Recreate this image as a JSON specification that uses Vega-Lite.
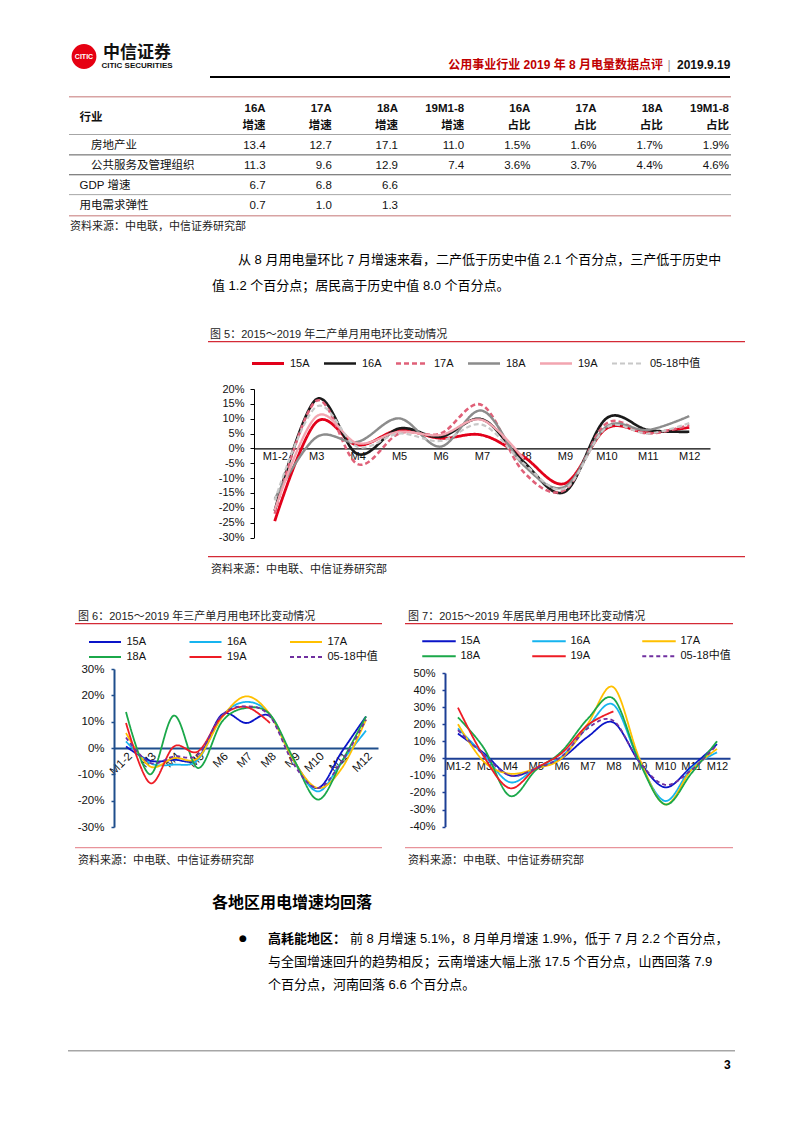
{
"$schema": "https://vega.github.io/schema/vega-lite/v6.json",
"background": "white",
"padding": 0,
"autosize": {"type": "pad"},
"spacing": 0,
"resolve": {"scale": {"color": "independent", "strokeDash": "independent", "strokeWidth": "independent"}},
"config": {
  "view": {"stroke": null},
  "font": "Liberation Sans, Noto Sans CJK SC, sans-serif",
  "concat": {"spacing": 0},
  "axis": {"labelFont": "Liberation Sans, Noto Sans CJK SC, sans-serif"},
  "legend": {"labelFont": "Liberation Sans, Noto Sans CJK SC, sans-serif"},
  "title": {"font": "Liberation Sans, Noto Sans CJK SC, sans-serif"},
  "text": {"font": "Liberation Sans, Noto Sans CJK SC, sans-serif"}
},
"datasets": {
  "hdr": [
    {"c":"g16","h":"行业","t":"16A\n增速"},{"c":"g17","h":"行业","t":"17A\n增速"},{"c":"g18","h":"行业","t":"18A\n增速"},{"c":"g19","h":"行业","t":"19M1-8\n增速"},
    {"c":"s16","h":"行业","t":"16A\n占比"},{"c":"s17","h":"行业","t":"17A\n占比"},{"c":"s18","h":"行业","t":"18A\n占比"},{"c":"s19","h":"行业","t":"19M1-8\n占比"}
  ],
  "tbl": [
    {"r":"房地产业","c":"g16","t":"13.4"},{"r":"房地产业","c":"g17","t":"12.7"},{"r":"房地产业","c":"g18","t":"17.1"},{"r":"房地产业","c":"g19","t":"11.0"},
    {"r":"房地产业","c":"s16","t":"1.5%"},{"r":"房地产业","c":"s17","t":"1.6%"},{"r":"房地产业","c":"s18","t":"1.7%"},{"r":"房地产业","c":"s19","t":"1.9%"},
    {"r":"公共服务及管理组织","c":"g16","t":"11.3"},{"r":"公共服务及管理组织","c":"g17","t":"9.6"},{"r":"公共服务及管理组织","c":"g18","t":"12.9"},{"r":"公共服务及管理组织","c":"g19","t":"7.4"},
    {"r":"公共服务及管理组织","c":"s16","t":"3.6%"},{"r":"公共服务及管理组织","c":"s17","t":"3.7%"},{"r":"公共服务及管理组织","c":"s18","t":"4.4%"},{"r":"公共服务及管理组织","c":"s19","t":"4.6%"},
    {"r":"GDP 增速","c":"g16","t":"6.7"},{"r":"GDP 增速","c":"g17","t":"6.8"},{"r":"GDP 增速","c":"g18","t":"6.6"},
    {"r":"用电需求弹性","c":"g16","t":"0.7"},{"r":"用电需求弹性","c":"g17","t":"1.0"},{"r":"用电需求弹性","c":"g18","t":"1.3"}
  ],
  "f5": [
    {"s":"15A","m":"M1-2","v":-24.5},{"s":"15A","m":"M3","v":8.8},{"s":"15A","m":"M4","v":1.1},{"s":"15A","m":"M5","v":6.2},{"s":"15A","m":"M6","v":3.4},{"s":"15A","m":"M7","v":4.5},{"s":"15A","m":"M8","v":-2.8},{"s":"15A","m":"M9","v":-11.8},{"s":"15A","m":"M10","v":6.7},{"s":"15A","m":"M11","v":5.3},{"s":"15A","m":"M12","v":7.1},
    {"s":"16A","m":"M1-2","v":-21},{"s":"16A","m":"M3","v":16.5},{"s":"16A","m":"M4","v":-1.9},{"s":"16A","m":"M5","v":6.7},{"s":"16A","m":"M6","v":3.9},{"s":"16A","m":"M7","v":9.8},{"s":"16A","m":"M8","v":-4.5},{"s":"16A","m":"M9","v":-14.6},{"s":"16A","m":"M10","v":10.1},{"s":"16A","m":"M11","v":6.2},{"s":"16A","m":"M12","v":5.6},
    {"s":"17A","m":"M1-2","v":-22},{"s":"17A","m":"M3","v":16},{"s":"17A","m":"M4","v":-5.3},{"s":"17A","m":"M5","v":5},{"s":"17A","m":"M6","v":5},{"s":"17A","m":"M7","v":14.6},{"s":"17A","m":"M8","v":-7.9},{"s":"17A","m":"M9","v":-14},{"s":"17A","m":"M10","v":8.4},{"s":"17A","m":"M11","v":5},{"s":"17A","m":"M12","v":7.9},
    {"s":"18A","m":"M1-2","v":-17},{"s":"18A","m":"M3","v":3.7},{"s":"18A","m":"M4","v":2.2},{"s":"18A","m":"M5","v":10.1},{"s":"18A","m":"M6","v":0.6},{"s":"18A","m":"M7","v":12.7},{"s":"18A","m":"M8","v":-5.6},{"s":"18A","m":"M9","v":-12.9},{"s":"18A","m":"M10","v":7.3},{"s":"18A","m":"M11","v":6.2},{"s":"18A","m":"M12","v":10.9},
    {"s":"19A","m":"M1-2","v":-20.8},{"s":"19A","m":"M3","v":10.7},{"s":"19A","m":"M4","v":1.7},{"s":"19A","m":"M5","v":5.6},{"s":"19A","m":"M6","v":4.5},{"s":"19A","m":"M7","v":9.6},{"s":"19A","m":"M8","v":-3.4},
    {"s":"05-18中值","m":"M1-2","v":-17.5},{"s":"05-18中值","m":"M3","v":14},{"s":"05-18中值","m":"M4","v":0.5},{"s":"05-18中值","m":"M5","v":5},{"s":"05-18中值","m":"M6","v":2.5},{"s":"05-18中值","m":"M7","v":8},{"s":"05-18中值","m":"M8","v":-5},{"s":"05-18中值","m":"M9","v":-13.5},{"s":"05-18中值","m":"M10","v":7},{"s":"05-18中值","m":"M11","v":5},{"s":"05-18中值","m":"M12","v":8.5}
  ],
  "f6": [
    {"s":"15A","m":"M1-2","v":0.6},{"s":"15A","m":"M3","v":-4.8},{"s":"15A","m":"M4","v":-4.5},{"s":"15A","m":"M5","v":-3.8},{"s":"15A","m":"M6","v":12.7},{"s":"15A","m":"M7","v":9.5},{"s":"15A","m":"M8","v":12},{"s":"15A","m":"M9","v":-5},{"s":"15A","m":"M10","v":-15.2},{"s":"15A","m":"M11","v":-1.3},{"s":"15A","m":"M12","v":12},
    {"s":"16A","m":"M1-2","v":2.5},{"s":"16A","m":"M3","v":-5.7},{"s":"16A","m":"M4","v":-6.3},{"s":"16A","m":"M5","v":-4.4},{"s":"16A","m":"M6","v":12},{"s":"16A","m":"M7","v":17.5},{"s":"16A","m":"M8","v":12.7},{"s":"16A","m":"M9","v":-5},{"s":"16A","m":"M10","v":-16.5},{"s":"16A","m":"M11","v":-5},{"s":"16A","m":"M12","v":6.6},
    {"s":"17A","m":"M1-2","v":5.7},{"s":"17A","m":"M3","v":-7},{"s":"17A","m":"M4","v":-3.8},{"s":"17A","m":"M5","v":-3.8},{"s":"17A","m":"M6","v":11.6},{"s":"17A","m":"M7","v":19.6},{"s":"17A","m":"M8","v":12.7},{"s":"17A","m":"M9","v":-5},{"s":"17A","m":"M10","v":-15.2},{"s":"17A","m":"M11","v":-7.6},{"s":"17A","m":"M12","v":10.8},
    {"s":"18A","m":"M1-2","v":13.7},{"s":"18A","m":"M3","v":-10},{"s":"18A","m":"M4","v":12.3},{"s":"18A","m":"M5","v":-7.6},{"s":"18A","m":"M6","v":10},{"s":"18A","m":"M7","v":15.2},{"s":"18A","m":"M8","v":12.7},{"s":"18A","m":"M9","v":-4.4},{"s":"18A","m":"M10","v":-19.6},{"s":"18A","m":"M11","v":-5},{"s":"18A","m":"M12","v":12},
    {"s":"19A","m":"M1-2","v":9.5},{"s":"19A","m":"M3","v":-13.3},{"s":"19A","m":"M4","v":0.6},{"s":"19A","m":"M5","v":-1.3},{"s":"19A","m":"M6","v":12},{"s":"19A","m":"M7","v":15.6},{"s":"19A","m":"M8","v":9.5},
    {"s":"05-18中值","m":"M1-2","v":4},{"s":"05-18中值","m":"M3","v":-5.7},{"s":"05-18中值","m":"M4","v":-3.2},{"s":"05-18中值","m":"M5","v":-2.5},{"s":"05-18中值","m":"M6","v":12.4},{"s":"05-18中值","m":"M7","v":15.8},{"s":"05-18中值","m":"M8","v":12},{"s":"05-18中值","m":"M9","v":-6.3},{"s":"05-18中值","m":"M10","v":-15.2},{"s":"05-18中值","m":"M11","v":-5},{"s":"05-18中值","m":"M12","v":10.8}
  ],
  "f7": [
    {"s":"15A","m":"M1-2","v":14.5},{"s":"15A","m":"M3","v":3},{"s":"15A","m":"M4","v":-10},{"s":"15A","m":"M5","v":-6},{"s":"15A","m":"M6","v":0},{"s":"15A","m":"M7","v":12.5},{"s":"15A","m":"M8","v":21},{"s":"15A","m":"M9","v":-2},{"s":"15A","m":"M10","v":-17},{"s":"15A","m":"M11","v":-5},{"s":"15A","m":"M12","v":8.3},
    {"s":"16A","m":"M1-2","v":17.5},{"s":"16A","m":"M3","v":2},{"s":"16A","m":"M4","v":-14},{"s":"16A","m":"M5","v":-6},{"s":"16A","m":"M6","v":1},{"s":"16A","m":"M7","v":18.4},{"s":"16A","m":"M8","v":31.4},{"s":"16A","m":"M9","v":-2},{"s":"16A","m":"M10","v":-25},{"s":"16A","m":"M11","v":-6},{"s":"16A","m":"M12","v":3.5},
    {"s":"17A","m":"M1-2","v":20},{"s":"17A","m":"M3","v":-2},{"s":"17A","m":"M4","v":-9},{"s":"17A","m":"M5","v":-6},{"s":"17A","m":"M6","v":0},{"s":"17A","m":"M7","v":20},{"s":"17A","m":"M8","v":41.7},{"s":"17A","m":"M9","v":0},{"s":"17A","m":"M10","v":-27},{"s":"17A","m":"M11","v":-7},{"s":"17A","m":"M12","v":5.5},
    {"s":"18A","m":"M1-2","v":24},{"s":"18A","m":"M3","v":6},{"s":"18A","m":"M4","v":-22},{"s":"18A","m":"M5","v":-7},{"s":"18A","m":"M6","v":4},{"s":"18A","m":"M7","v":23},{"s":"18A","m":"M8","v":35},{"s":"18A","m":"M9","v":-2},{"s":"18A","m":"M10","v":-27},{"s":"18A","m":"M11","v":-9},{"s":"18A","m":"M12","v":10},
    {"s":"19A","m":"M1-2","v":29.7},{"s":"19A","m":"M3","v":1},{"s":"19A","m":"M4","v":-17.5},{"s":"19A","m":"M5","v":-6},{"s":"19A","m":"M6","v":3},{"s":"19A","m":"M7","v":19.4},{"s":"19A","m":"M8","v":27.5},
    {"s":"05-18中值","m":"M1-2","v":16.5},{"s":"05-18中值","m":"M3","v":2},{"s":"05-18中值","m":"M4","v":-10},{"s":"05-18中值","m":"M5","v":-6},{"s":"05-18中值","m":"M6","v":1},{"s":"05-18中值","m":"M7","v":17.5},{"s":"05-18中值","m":"M8","v":22},{"s":"05-18中值","m":"M9","v":-2},{"s":"05-18中值","m":"M10","v":-15.5},{"s":"05-18中值","m":"M11","v":-7},{"s":"05-18中值","m":"M12","v":8}
  ]
},
"vconcat": [
  {"width": 1, "height": 40, "data": {"values": []}, "mark": "point"},
  {"hconcat": [
    {"width": 70, "height": 36, "data": {"values": []}, "mark": "point"},
    {"width": 28, "height": 33, "data": {"values": [{"k": "CITIC"}]}, "layer": [
      {"mark": {"type": "point", "shape": "circle", "filled": true, "size": 616, "color": "#e60012", "opacity": 1}},
      {"mark": {"type": "text", "color": "white", "fontSize": 7, "fontWeight": "bold", "font": "Liberation Sans"}, "encoding": {"text": {"field": "k", "type": "nominal"}}}
    ]},
    {"width": 3, "height": 36, "data": {"values": []}, "mark": "point"},
    {"vconcat": [
      {"width": 72, "height": 21, "data": {"values": [{"t": "中信证券"}]}, "mark": {"type": "text", "fontSize": 17, "fontWeight": "bold", "font": "Noto Sans CJK SC", "dy": 2, "color": "#111"}, "encoding": {"text": {"field": "t", "type": "nominal"}}},
      {"width": 72, "height": 10, "data": {"values": [{"t": "CITIC SECURITIES"}]}, "mark": {"type": "text", "fontSize": 8, "fontWeight": "bold", "font": "Liberation Sans", "color": "#111"}, "encoding": {"text": {"field": "t", "type": "nominal"}}}
    ]},
    {"width": 267, "height": 36, "data": {"values": []}, "mark": "point"},
    {"width": 290, "height": 36, "layer": [
      {"data": {"values": [{"t": "公用事业行业 2019 年 8 月电量数据点评"}]}, "mark": {"type": "text", "align": "right", "dx": 78, "dy": 7, "fontSize": 12, "fontWeight": "bold", "color": "#c00000"}, "encoding": {"text": {"field": "t", "type": "nominal"}}},
      {"data": {"values": [{"t": "|"}]}, "mark": {"type": "text", "align": "center", "dx": 84, "dy": 7, "fontSize": 12, "color": "#999999"}, "encoding": {"text": {"field": "t", "type": "nominal"}}},
      {"data": {"values": [{"t": "2019.9.19"}]}, "mark": {"type": "text", "align": "left", "dx": 92, "dy": 7, "fontSize": 12, "fontWeight": "bold", "color": "#111"}, "encoding": {"text": {"field": "t", "type": "nominal"}}}
    ]}
  ]},
  {"hconcat": [
    {"width": 210, "height": 2, "data": {"values": []}, "mark": "point"},
    {"width": 520, "height": 2, "data": {"values": []}, "mark": "point", "view": {"fill": "#000000", "stroke": null}}
  ]},
  {"width": 1, "height": 18, "data": {"values": []}, "mark": "point"},
  {"hconcat": [
    {"width": 68, "height": 1, "data": {"values": []}, "mark": "point"},
    {"vconcat": [
      {"width": 662, "height": 1.5, "data": {"values": []}, "mark": "point", "view": {"fill": "#d8a3a3", "stroke": null}},
      {"width": 662, "height": 36, "data": {"name": "hdr"},
       "mark": {"type": "text", "align": "right", "dx": -2, "dy": -6.9, "fontWeight": "bold", "fontSize": 11.5, "lineBreak": "\n", "lineHeight": 16.8, "color": "#111"},
       "encoding": {
         "x": {"field": "c", "type": "nominal", "bandPosition": 1, "scale": {"type": "band", "domain": ["g16","g17","g18","g19","s16","s17","s18","s19"], "paddingInner": 0, "paddingOuter": 2.0656, "align": 1}, "axis": null},
         "y": {"field": "h", "type": "nominal", "scale": {"type": "band", "domain": ["行业"], "paddingInner": 0, "paddingOuter": 0}, "axis": {"title": null, "domain": false, "ticks": false, "tickSize": 0, "labelAlign": "left", "labelPadding": -10, "labelOffset": 1.5, "labelFontWeight": "bold", "labelFontSize": 11.5, "labelColor": "#111", "minExtent": 0}},
         "text": {"field": "t", "type": "nominal"}
       }},
      {"width": 662, "height": 1, "data": {"values": []}, "mark": "point", "view": {"fill": "#a6a6a6", "stroke": null}},
      {"width": 662, "height": 79.5, "layer": [
        {"data": {"name": "tbl"},
         "mark": {"type": "text", "align": "right", "dx": -2, "dy": 1.2, "fontSize": 11.5, "color": "#111"},
         "encoding": {
           "x": {"field": "c", "type": "nominal", "bandPosition": 1, "scale": {"type": "band", "domain": ["g16","g17","g18","g19","s16","s17","s18","s19"], "paddingInner": 0, "paddingOuter": 2.0656, "align": 1}, "axis": null},
           "y": {"field": "r", "type": "nominal", "scale": {"type": "band", "domain": ["房地产业","公共服务及管理组织","GDP 增速","用电需求弹性"], "paddingInner": 0, "paddingOuter": 0}, "axis": {"title": null, "domain": false, "ticks": false, "tickSize": 0, "labelAlign": "left", "labelPadding": -10, "labelOffset": 1.2, "labelFontSize": 11.5, "labelColor": "#111", "minExtent": 0, "labelExpr": "(datum.value == '房地产业' || datum.value == '公共服务及管理组织') ? '\u200b\u3000' + datum.value : datum.value"}},
           "text": {"field": "t", "type": "nominal"}
         }},
        {"data": {"values": [{"r": "房地产业"}, {"r": "公共服务及管理组织"}, {"r": "GDP 增速"}]},
         "mark": {"type": "rule", "strokeWidth": 1},
         "encoding": {
           "y": {"field": "r", "type": "nominal", "bandPosition": 1},
           "color": {"condition": {"test": "datum.r === 'GDP 增速'", "value": "#a6a6a6"}, "value": "#5a5a5a"}
         }}
      ]},
      {"width": 662, "height": 1.5, "data": {"values": []}, "mark": "point", "view": {"fill": "#d8a3a3", "stroke": null}}
    ]}
  ]},
  {"width": 1, "height": 4, "data": {"values": []}, "mark": "point"},
  {"hconcat": [
    {"width": 70, "height": 1, "data": {"values": []}, "mark": "point"},
    {"width": 300, "height": 1, "data": {"values": []}, "mark": "point", "title": {"text": "资料来源：中电联，中信证券研究部", "anchor": "start", "frame": "group", "offset": 0, "fontSize": 11, "fontWeight": "normal", "color": "#222"}}
  ]},
  {"width": 1, "height": 20.2, "data": {"values": []}, "mark": "point"},
  {"hconcat": [
    {"width": 211.5, "height": 1, "data": {"values": []}, "mark": "point"},
    {"width": 530, "height": 1, "data": {"values": []}, "mark": "point", "title": {"text": ["\u200b\u3000\u3000从 8 月用电量环比 7 月增速来看，二产低于历史中值 2.1 个百分点，三产低于历史中", "值 1.2 个百分点；居民高于历史中值 8.0 个百分点。"], "anchor": "start", "frame": "group", "offset": 0, "fontSize": 13, "lineHeight": 26, "fontWeight": "normal", "color": "#000"}}
  ]},
  {"width": 1, "height": 34.8, "data": {"values": []}, "mark": "point"},
  {"hconcat": [
    {"width": 210, "height": 1, "data": {"values": []}, "mark": "point"},
    {"width": 400, "height": 1, "data": {"values": []}, "mark": "point", "title": {"text": "图 5：2015～2019 年二产单月用电环比变动情况", "anchor": "start", "frame": "group", "offset": 0, "fontSize": 11, "fontWeight": "normal", "color": "#222"}}
  ]},
  {"hconcat": [
    {"width": 208, "height": 1.3, "data": {"values": []}, "mark": "point"},
    {"width": 537, "height": 1.3, "data": {"values": []}, "mark": "point", "view": {"fill": "#d42a36", "stroke": null}}
  ]},
  {"width": 1, "height": 13.2, "data": {"values": []}, "mark": "point"},
  {"resolve": {"scale": {"color": "independent", "strokeDash": "independent", "strokeWidth": "independent"}},
   "hconcat": [
    {"width": 214, "height": 1, "data": {"values": []}, "mark": "point"},
    {"width": 456, "height": 148.5, "data": {"name": "f5"},
     "mark": {"type": "line", "interpolate": "cardinal"},
     "encoding": {
       "x": {"field": "m", "type": "ordinal", "sort": ["M1-2","M3","M4","M5","M6","M7","M8","M9","M10","M11","M12"], "scale": {"type": "point", "padding": 0.5, "domain": ["M1-2","M3","M4","M5","M6","M7","M8","M9","M10","M11","M12"]},
             "axis": {"title": null, "orient": "bottom", "offset": -89.1, "domainColor": "#000", "domainWidth": 1.3, "ticks": false, "labelAngle": 0, "labelPadding": 2, "labelFontSize": 11, "labelColor": "#111"}},
       "y": {"field": "v", "type": "quantitative", "scale": {"domain": [-30, 20], "nice": false, "zero": false},
             "axis": {"title": null, "values": [-30,-25,-20,-15,-10,-5,0,5,10,15,20], "labelExpr": "datum.value + '%'", "tickSize": 4, "tickColor": "#000", "domainColor": "#000", "grid": false, "labelFontSize": 11, "labelPadding": 6, "minExtent": 40, "labelColor": "#111"}},
       "color": {"field": "s", "type": "nominal", "scale": {"domain": ["15A","16A","17A","18A","19A","05-18中值"], "range": ["#e2001a","#1a1a1a","#e06078","#8c8c8c","#f2a5b0","#c8c8c8"]},
                 "legend": {"title": null, "orient": "none", "legendX": -3.5, "legendY": -32, "direction": "horizontal", "columns": 6, "symbolType": "stroke", "symbolSize": 1024, "symbolStrokeWidth": 2.2, "clipHeight": 13, "labelOffset": 4.5, "columnPadding": 12, "rowPadding": 2, "padding": 0, "labelFontSize": 11, "labelColor": "#111"}},
       "strokeDash": {"field": "s", "type": "nominal", "scale": {"domain": ["15A","16A","17A","18A","19A","05-18中值"], "range": [[1,0],[1,0],[5,3],[1,0],[1,0],[5,3]]},
                 "legend": {"title": null, "orient": "none", "legendX": -3.5, "legendY": -32, "direction": "horizontal", "columns": 6, "symbolType": "stroke", "symbolSize": 1024, "symbolStrokeWidth": 2.2, "clipHeight": 13, "labelOffset": 4.5, "columnPadding": 12, "rowPadding": 2, "padding": 0, "labelFontSize": 11, "labelColor": "#111"}},
       "strokeWidth": {"field": "s", "type": "ordinal", "scale": {"domain": ["15A","16A","17A","18A","19A","05-18中值"], "range": [2.8,2.2,2.2,2.2,2.2,2.2]}, "legend": null}
     }}
  ]},
  {"width": 1, "height": 12.4, "data": {"values": []}, "mark": "point"},
  {"hconcat": [
    {"width": 208, "height": 1.3, "data": {"values": []}, "mark": "point"},
    {"width": 537, "height": 1.3, "data": {"values": []}, "mark": "point", "view": {"fill": "#d42a36", "stroke": null}}
  ]},
  {"width": 1, "height": 5.8, "data": {"values": []}, "mark": "point"},
  {"hconcat": [
    {"width": 211, "height": 1, "data": {"values": []}, "mark": "point"},
    {"width": 300, "height": 1, "data": {"values": []}, "mark": "point", "title": {"text": "资料来源：中电联、中信证券研究部", "anchor": "start", "frame": "group", "offset": 0, "fontSize": 11, "fontWeight": "normal", "color": "#222"}}
  ]},
  {"width": 1, "height": 34.3, "data": {"values": []}, "mark": "point"},
  {"resolve": {"scale": {"color": "independent", "strokeDash": "independent"}},
   "hconcat": [
    {"width": 75, "height": 1, "data": {"values": []}, "mark": "point"},
    {"resolve": {"scale": {"color": "independent", "strokeDash": "independent"}},
     "vconcat": [
      {"hconcat": [
        {"width": 3, "height": 1, "data": {"values": []}, "mark": "point"},
        {"width": 290, "height": 1, "data": {"values": []}, "mark": "point", "title": {"text": "图 6：2015～2019 年三产单月用电环比变动情况", "anchor": "start", "frame": "group", "offset": 0, "fontSize": 11, "fontWeight": "normal", "color": "#222"}}
      ]},
      {"width": 307, "height": 1.3, "data": {"values": []}, "mark": "point", "view": {"fill": "#d42a36", "stroke": null}},
      {"width": 1, "height": 9.2, "data": {"values": []}, "mark": "point"},
      {"resolve": {"scale": {"color": "independent", "strokeDash": "independent"}},
       "hconcat": [
        {"width": 1, "height": 1, "data": {"values": []}, "mark": "point"},
        {"width": 264, "height": 158, "data": {"name": "f6"},
         "mark": {"type": "line", "interpolate": "cardinal", "strokeWidth": 1.8},
         "encoding": {
           "x": {"field": "m", "type": "ordinal", "sort": ["M1-2","M3","M4","M5","M6","M7","M8","M9","M10","M11","M12"], "scale": {"type": "point", "padding": 0.5, "domain": ["M1-2","M3","M4","M5","M6","M7","M8","M9","M10","M11","M12"]},
                 "axis": {"title": null, "orient": "bottom", "offset": -79, "domainColor": "#1f4e8c", "domainWidth": 2, "ticks": false, "labelAngle": -45, "labelAlign": "right", "labelBaseline": "top", "labelPadding": 2, "labelFontSize": 11.5, "labelColor": "#111"}},
           "y": {"field": "v", "type": "quantitative", "scale": {"domain": [-30, 30], "nice": false, "zero": false},
                 "axis": {"title": null, "values": [-30,-20,-10,0,10,20,30], "labelExpr": "datum.value + '%'", "tickSize": 3, "tickWidth": 1.5, "tickColor": "#1f4e8c", "domainColor": "#1f4e8c", "domainWidth": 2, "grid": false, "labelFontSize": 11.5, "labelPadding": 7, "minExtent": 38, "labelColor": "#111"}},
           "color": {"field": "s", "type": "nominal", "scale": {"domain": ["15A","16A","17A","18A","19A","05-18中值"], "range": ["#0a14c8","#16b4ef","#ffc000","#1ba84a","#ee1c25","#7030a0"]},
                     "legend": {"title": null, "orient": "none", "legendX": -26, "legendY": -33.5, "direction": "horizontal", "columns": 3, "symbolType": "stroke", "symbolSize": 1024, "symbolStrokeWidth": 2, "clipHeight": 13, "labelOffset": 4.5, "columnPadding": 41.5, "rowPadding": 2, "padding": 0, "labelFontSize": 11, "labelColor": "#111"}},
           "strokeDash": {"field": "s", "type": "nominal", "scale": {"domain": ["15A","16A","17A","18A","19A","05-18中值"], "range": [[1,0],[1,0],[1,0],[1,0],[1,0],[4,3]]},
                     "legend": {"title": null, "orient": "none", "legendX": -26, "legendY": -33.5, "direction": "horizontal", "columns": 3, "symbolType": "stroke", "symbolSize": 1024, "symbolStrokeWidth": 2, "clipHeight": 13, "labelOffset": 4.5, "columnPadding": 41.5, "rowPadding": 2, "padding": 0, "labelFontSize": 11, "labelColor": "#111"}}
         }}
      ]},
      {"width": 1, "height": 13.75, "data": {"values": []}, "mark": "point"},
      {"width": 307, "height": 1.3, "data": {"values": []}, "mark": "point", "view": {"fill": "#e8939a", "stroke": null}},
      {"width": 1, "height": 5.8, "data": {"values": []}, "mark": "point"},
      {"hconcat": [
        {"width": 3, "height": 1, "data": {"values": []}, "mark": "point"},
        {"width": 290, "height": 1, "data": {"values": []}, "mark": "point", "title": {"text": "资料来源：中电联、中信证券研究部", "anchor": "start", "frame": "group", "offset": 0, "fontSize": 11, "fontWeight": "normal", "color": "#222"}}
      ]}
    ]},
    {"width": 23, "height": 1, "data": {"values": []}, "mark": "point"},
    {"resolve": {"scale": {"color": "independent", "strokeDash": "independent"}},
     "vconcat": [
      {"hconcat": [
        {"width": 2.3, "height": 1, "data": {"values": []}, "mark": "point"},
        {"width": 300, "height": 1, "data": {"values": []}, "mark": "point", "title": {"text": "图 7：2015～2019 年居民单月用电环比变动情况", "anchor": "start", "frame": "group", "offset": 0, "fontSize": 11, "fontWeight": "normal", "color": "#222"}}
      ]},
      {"width": 328, "height": 1.3, "data": {"values": []}, "mark": "point", "view": {"fill": "#d42a36", "stroke": null}},
      {"width": 1, "height": 8.2, "data": {"values": []}, "mark": "point"},
      {"resolve": {"scale": {"color": "independent", "strokeDash": "independent"}},
       "hconcat": [
        {"width": 2, "height": 1, "data": {"values": []}, "mark": "point"},
        {"width": 285, "height": 153.6, "data": {"name": "f7"},
         "mark": {"type": "line", "interpolate": "cardinal", "strokeWidth": 1.8},
         "encoding": {
           "x": {"field": "m", "type": "ordinal", "sort": ["M1-2","M3","M4","M5","M6","M7","M8","M9","M10","M11","M12"], "scale": {"type": "point", "padding": 0.5, "domain": ["M1-2","M3","M4","M5","M6","M7","M8","M9","M10","M11","M12"]},
                 "axis": {"title": null, "orient": "bottom", "offset": -68.3, "domainColor": "#1c3f95", "domainWidth": 2, "ticks": false, "labelAngle": 0, "labelPadding": 2, "labelFontSize": 11, "labelColor": "#111"}},
           "y": {"field": "v", "type": "quantitative", "scale": {"domain": [-40, 50], "nice": false, "zero": false},
                 "axis": {"title": null, "values": [-40,-30,-20,-10,0,10,20,30,40,50], "labelExpr": "datum.value + '%'", "tickSize": 3, "tickWidth": 1.5, "tickColor": "#1c3f95", "domainColor": "#1c3f95", "domainWidth": 2, "grid": false, "labelFontSize": 11, "labelPadding": 7, "minExtent": 38, "labelColor": "#111"}},
           "color": {"field": "s", "type": "nominal", "scale": {"domain": ["15A","16A","17A","18A","19A","05-18中值"], "range": ["#0a14c8","#16b4ef","#ffc000","#1ba84a","#ee1c25","#7030a0"]},
                     "legend": {"title": null, "orient": "none", "legendX": -24, "legendY": -38.2, "direction": "horizontal", "columns": 3, "symbolType": "stroke", "symbolSize": 1122, "symbolStrokeWidth": 2, "clipHeight": 13, "labelOffset": 3.5, "columnPadding": 50, "rowPadding": 2, "padding": 0, "labelFontSize": 11, "labelColor": "#111"}},
           "strokeDash": {"field": "s", "type": "nominal", "scale": {"domain": ["15A","16A","17A","18A","19A","05-18中值"], "range": [[1,0],[1,0],[1,0],[1,0],[1,0],[4,3]]},
                     "legend": {"title": null, "orient": "none", "legendX": -24, "legendY": -38.2, "direction": "horizontal", "columns": 3, "symbolType": "stroke", "symbolSize": 1122, "symbolStrokeWidth": 2, "clipHeight": 13, "labelOffset": 3.5, "columnPadding": 50, "rowPadding": 2, "padding": 0, "labelFontSize": 11, "labelColor": "#111"}}
         }}
      ]},
      {"width": 1, "height": 14.7, "data": {"values": []}, "mark": "point"},
      {"width": 328, "height": 1.3, "data": {"values": []}, "mark": "point", "view": {"fill": "#e8939a", "stroke": null}},
      {"width": 1, "height": 5.8, "data": {"values": []}, "mark": "point"},
      {"hconcat": [
        {"width": 2.3, "height": 1, "data": {"values": []}, "mark": "point"},
        {"width": 290, "height": 1, "data": {"values": []}, "mark": "point", "title": {"text": "资料来源：中电联、中信证券研究部", "anchor": "start", "frame": "group", "offset": 0, "fontSize": 11, "fontWeight": "normal", "color": "#222"}}
      ]}
    ]}
  ]},
  {"width": 1, "height": 27.6, "data": {"values": []}, "mark": "point"},
  {"hconcat": [
    {"width": 212, "height": 1, "data": {"values": []}, "mark": "point"},
    {"width": 300, "height": 1, "data": {"values": []}, "mark": "point", "title": {"text": "各地区用电增速均回落", "anchor": "start", "frame": "group", "offset": 0, "fontSize": 16, "fontWeight": "bold", "color": "#000"}}
  ]},
  {"width": 1, "height": 20.3, "data": {"values": []}, "mark": "point"},
  {"hconcat": [
    {"width": 239, "height": 1, "data": {"values": []}, "mark": "point"},
    {"width": 28.5, "height": 1, "data": {"values": []}, "mark": "point", "title": {"text": "●", "anchor": "start", "frame": "group", "offset": 3, "fontSize": 9, "font": "DejaVu Sans", "fontWeight": "normal", "color": "#000"}},
    {"width": 82, "height": 1, "data": {"values": []}, "mark": "point", "title": {"text": "高耗能地区：", "anchor": "start", "frame": "group", "offset": 0, "fontSize": 13, "fontWeight": "bold", "color": "#000"}},
    {"width": 420, "height": 1, "data": {"values": []}, "mark": "point", "title": {"text": "前 8 月增速 5.1%，8 月单月增速 1.9%，低于 7 月 2.2 个百分点，", "anchor": "start", "frame": "group", "offset": 0, "fontSize": 13, "fontWeight": "normal", "color": "#000"}}
  ]},
  {"width": 1, "height": 9, "data": {"values": []}, "mark": "point"},
  {"hconcat": [
    {"width": 267.5, "height": 1, "data": {"values": []}, "mark": "point"},
    {"width": 480, "height": 1, "data": {"values": []}, "mark": "point", "title": {"text": ["与全国增速回升的趋势相反；云南增速大幅上涨 17.5 个百分点，山西回落 7.9", "个百分点，河南回落 6.6 个百分点。"], "anchor": "start", "frame": "group", "offset": 0, "fontSize": 13, "lineHeight": 23, "fontWeight": "normal", "color": "#000"}}
  ]},
  {"width": 1, "height": 56.3, "data": {"values": []}, "mark": "point"},
  {"hconcat": [
    {"width": 68, "height": 1.5, "data": {"values": []}, "mark": "point"},
    {"width": 667, "height": 1.5, "data": {"values": []}, "mark": "point", "view": {"fill": "#a6a6a6", "stroke": null}}
  ]},
  {"width": 1, "height": 7, "data": {"values": []}, "mark": "point"},
  {"hconcat": [
    {"width": 724, "height": 1, "data": {"values": []}, "mark": "point"},
    {"width": 12, "height": 1, "data": {"values": []}, "mark": "point", "title": {"text": "3", "anchor": "start", "frame": "group", "offset": 0, "fontSize": 12, "fontWeight": "bold", "color": "#000"}}
  ]}
]
}
